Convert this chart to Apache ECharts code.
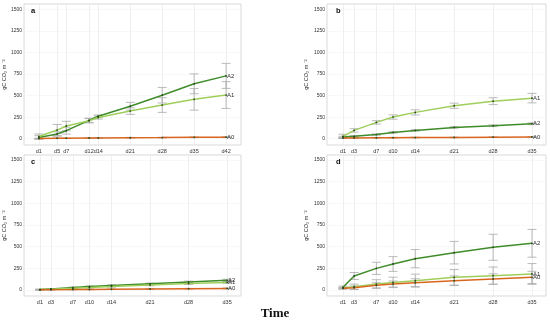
<!DOCTYPE html>
<html>
<head>
<meta charset="utf-8">
<script src="https://cdn.jsdelivr.net/npm/echarts@6/dist/echarts.min.js"></script>
<style>html,body{margin:0;padding:0;background:#fff}#c{width:550px;height:322px}</style>
</head>
<body>
<div id="c"></div>
<script>
// ---- data ----
const yTicks = [0, 250, 500, 750, 1000, 1250, 1500];
const daysA = [1, 5, 7, 12, 14, 21, 28, 35, 42];
const daysB = [1, 3, 7, 10, 14, 21, 28, 35];
const seriesNames = ['A0', 'A1', 'A2'];

const aA0 = [3, 5, 6, 8, 9, 11, 13, 16, 18];
const aA1 = [25, 100, 147, 208, 245, 320, 390, 456, 506];
const aA2 = [15, 55, 93, 213, 260, 376, 504, 636, 728];
const aA0err = [3, 3, 3, 3, 3, 4, 4, 5, 6];
const aA1err = [30, 65, 55, 25, 18, 38, 85, 125, 155];
const aA2err = [20, 25, 40, 25, 15, 45, 90, 115, 145];

const bA0 = [8, 9, 11, 12, 13, 15, 18, 20];
const bA1 = [27, 96, 189, 251, 305, 382, 435, 470];
const bA2 = [20, 27, 48, 73, 96, 131, 150, 173];
const bA0err = [4, 4, 4, 4, 4, 4, 4, 4];
const bA1err = [25, 20, 20, 25, 30, 30, 40, 55];
const bA2err = [8, 8, 8, 8, 8, 8, 10, 10];

const cA0 = [2, 3, 5, 7, 9, 12, 15, 18];
const cA1 = [5, 10, 20, 30, 40, 57, 74, 88];
const cA2 = [5, 12, 28, 40, 52, 72, 93, 112];
const cA0err = [2, 2, 3, 3, 3, 4, 4, 5];
const cA1err = [4, 5, 6, 6, 7, 8, 10, 10];
const cA2err = [4, 5, 6, 7, 8, 9, 10, 12];

const dA0 = [20, 27, 54, 69, 85, 108, 127, 146];
const dA1 = [22, 38, 69, 88, 108, 146, 166, 185];
const dA2 = [31, 162, 250, 300, 362, 431, 493, 539];
const dA0err = [8, 20, 30, 35, 45, 55, 60, 70];
const dA1err = [10, 30, 50, 60, 75, 90, 100, 120];
const dA2err = [15, 40, 70, 85, 105, 130, 150, 160];

const panels = [
  {letter: 'a', days: daysA, vals: [aA0, aA1, aA2], errs: [aA0err, aA1err, aA2err]},
  {letter: 'b', days: daysB, vals: [bA0, bA1, bA2], errs: [bA0err, bA1err, bA2err]},
  {letter: 'c', days: daysB, vals: [cA0, cA1, cA2], errs: [cA0err, cA1err, cA2err]},
  {letter: 'd', days: daysB, vals: [dA0, dA1, dA2], errs: [dA0err, dA1err, dA2err]}
];

// ---- layout / style ----
const colors = {A0: '#d9661f', A1: '#9fce5c', A2: '#3f8c2a'};
const geo = [
  {left: 22, top: 4, xmin: -2.25, xmax: 45.26, ymin: -73, ymax: 1561},
  {left: 327, top: 4, xmin: -1.88, xmax: 37.52, ymin: -73, ymax: 1561},
  {left: 22, top: 155, xmin: -1.88, xmax: 37.52, ymin: -69, ymax: 1558},
  {left: 327, top: 155, xmin: -1.88, xmax: 37.52, ymin: -69, ymax: 1558}
];
const W = 219, H = 141;

const grids = [], xAxes = [], yAxes = [], series = [], graphics = [];
panels.forEach((p, i) => {
  const g = geo[i];
  grids.push({left: g.left, top: g.top, width: W, height: H, show: true,
    borderColor: '#d9d9d9', borderWidth: 1, backgroundColor: '#fff'});
  xAxes.push({type: 'value', gridIndex: i, min: g.xmin, max: g.xmax,
    axisLine: {show: false}, axisTick: {show: false, customValues: p.days},
    axisLabel: {customValues: p.days, formatter: v => 'd' + v, fontSize: 5.5,
      color: '#333', margin: 3, fontFamily: 'Liberation Sans'},
    splitLine: {show: true, lineStyle: {color: '#ebebeb', width: 0.8}}});
  yAxes.push({type: 'value', gridIndex: i, min: g.ymin, max: g.ymax,
    name: 'gC CO\u2082 m \u207B\u00B2', nameLocation: 'middle', nameGap: 11,
    nameTextStyle: {fontSize: 5.5, color: '#333', fontFamily: 'Liberation Sans'},
    axisLine: {show: false}, axisTick: {show: false, customValues: yTicks},
    axisLabel: {customValues: yTicks, formatter: v => String(v), fontSize: 5,
      color: '#333', margin: 2, fontFamily: 'Liberation Sans'},
    splitLine: {show: true, lineStyle: {color: '#f4f4f4', width: 0.6}}});

  seriesNames.forEach((name, k) => {
    const vals = p.vals[k], errs = p.errs[k];
    series.push({
      type: 'custom', name: name + '_err', xAxisIndex: i, yAxisIndex: i, z: 3,
      data: p.days.map((d, j) => [d, vals[j] - errs[j], vals[j] + errs[j]]),
      encode: {x: 0, y: [1, 2]},
      renderItem: (params, api) => {
        const x = api.value(0);
        const lo = api.coord([x, api.value(1)]);
        const hi = api.coord([x, api.value(2)]);
        const cw = 4.5;
        const st = {stroke: '#a9a9a9', lineWidth: 0.8};
        return {type: 'group', children: [
          {type: 'line', shape: {x1: lo[0], y1: lo[1], x2: hi[0], y2: hi[1]}, style: st},
          {type: 'line', shape: {x1: lo[0] - cw, y1: lo[1], x2: lo[0] + cw, y2: lo[1]}, style: st},
          {type: 'line', shape: {x1: hi[0] - cw, y1: hi[1], x2: hi[0] + cw, y2: hi[1]}, style: st}
        ]};
      },
      silent: true
    });
  });
  [2, 1, 0].forEach(k => {
    const name = seriesNames[k];
    series.push({
      type: 'line', name: name, xAxisIndex: i, yAxisIndex: i, z: 4,
      data: p.days.map((d, j) => [d, p.vals[k][j]]),
      symbol: 'circle', symbolSize: 1.8, showSymbol: true,
      itemStyle: {color: '#2d4a1f'},
      lineStyle: {color: colors[name], width: 1.5},
      endLabel: {show: true, formatter: '{a}', fontSize: 6, color: '#333',
        distance: 1, fontFamily: 'Liberation Sans'},
      animation: false
    });
  });

  graphics.push({type: 'text', left: g.left + 9, top: g.top + 3, z: 10,
    style: {text: p.letter, font: 'bold 7.5px Liberation Sans', fill: '#111'}});
});

graphics.push({type: 'text', left: 'center', top: 307, z: 10,
  style: {text: 'Time', font: 'bold 13px Liberation Serif', fill: '#111'}});

const chart = echarts.init(document.getElementById('c'), null, {renderer: 'canvas'});
chart.setOption({
  animation: false,
  grid: grids, xAxis: xAxes, yAxis: yAxes, series: series, graphic: graphics
});
</script>
</body>
</html>
